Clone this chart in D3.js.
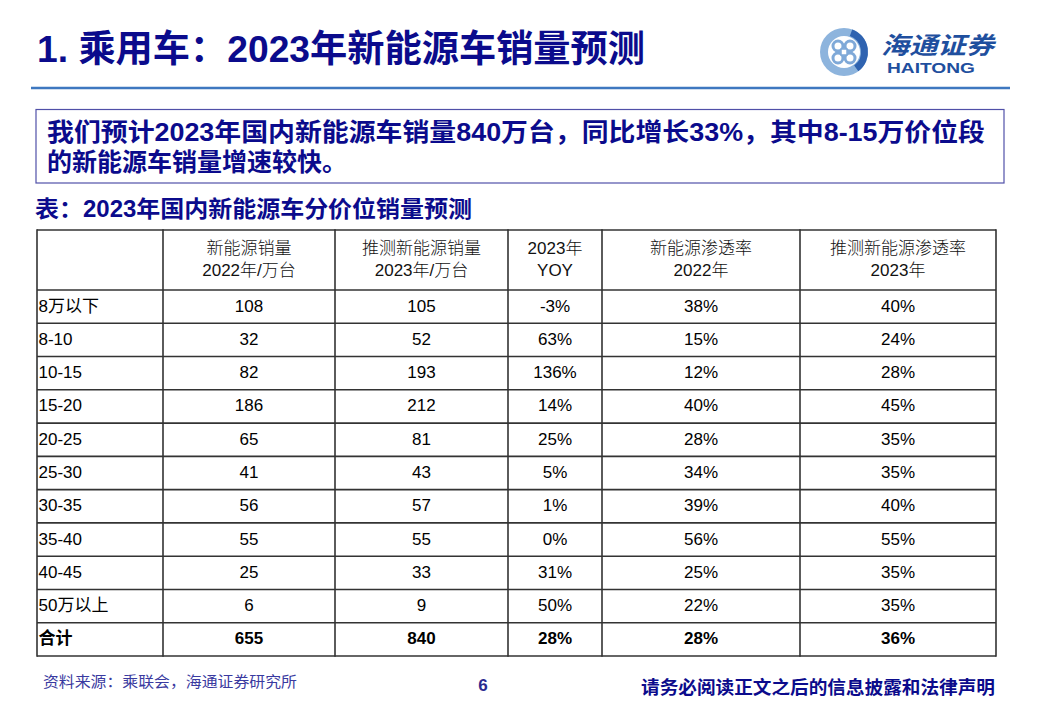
<!DOCTYPE html>
<html><head><meta charset="utf-8">
<script src="https://cdn.jsdelivr.net/npm/d3@7"></script>
<style>
html,body{margin:0;padding:0;background:#fff;}
svg{display:block;}
</style></head>
<body>
<svg id="c" width="1040" height="718"></svg>
<script>
const categories = ["8万以下","8-10","10-15","15-20","20-25","25-30","30-35","35-40","40-45","50万以上"];
const sales2022 = [108,32,82,186,65,41,56,55,25,6];
const sales2023 = [105,52,193,212,81,43,57,55,33,9];
const yoy2023 = ["-3%","63%","136%","14%","25%","5%","1%","0%","31%","50%"];
const pen2022 = ["38%","15%","12%","40%","28%","34%","39%","56%","25%","22%"];
const pen2023 = ["40%","24%","28%","45%","35%","35%","40%","55%","35%","35%"];
const totalRow = ["合计","655","840","28%","28%","36%"];
const headers = [["",""],["新能源销量","2022年/万台"],["推测新能源销量","2023年/万台"],["2023年","YOY"],["新能源渗透率","2022年"],["推测新能源渗透率","2023年"]];

const CJK = "'Liberation Sans', Arial, 'Noto Sans CJK SC', sans-serif";
const NAVY = "#0b0b8c";
const svg = d3.select("#c");

// Title
svg.append("text").attr("x",37).attr("y",62)
  .attr("font-family",CJK).attr("font-weight","bold").attr("font-size",37)
  .attr("fill",NAVY).attr("textLength",608).attr("lengthAdjust","spacingAndGlyphs")
  .text("1. 乘用车：2023年新能源车销量预测");

// Logo
const lg = svg.append("g").attr("transform","translate(844,52)");
lg.append("circle").attr("r",24).attr("fill","#8db4dd");
lg.append("path").attr("d",d3.arc()({innerRadius:17,outerRadius:24,startAngle:0.35,endAngle:2.5})).attr("fill","#2f63b0");
lg.append("circle").attr("r",16).attr("fill","#fff");
[45,135,225,315].forEach(a=>{
  lg.append("circle").attr("r",5).attr("cx",8.5*Math.cos(a*Math.PI/180)).attr("cy",8.5*Math.sin(a*Math.PI/180))
    .attr("fill","none").attr("stroke","#7fa9d8").attr("stroke-width",3);
});
lg.append("rect").attr("x",-3).attr("y",-3).attr("width",6).attr("height",6).attr("fill","#fff").attr("stroke","#7fa9d8").attr("stroke-width",1.5);
svg.append("text").attr("x",881).attr("y",54).attr("font-family","'Noto Sans CJK SC'").attr("font-weight","bold")
  .attr("font-size",24).attr("fill","#1f4f9e").attr("font-style","italic").attr("textLength",113).attr("lengthAdjust","spacingAndGlyphs").text("海通证券");
svg.append("text").attr("x",887).attr("y",73).attr("font-family","'Liberation Sans', Arial, sans-serif").attr("font-weight","bold")
  .attr("font-size",14).attr("fill","#1f4f9e").attr("textLength",88).attr("lengthAdjust","spacingAndGlyphs").text("HAITONG");

// Blue rule
svg.append("line").attr("x1",31).attr("x2",1010).attr("y1",88).attr("y2",88).attr("stroke","#3e78c0").attr("stroke-width",2.5);

// Box
svg.append("rect").attr("x",36).attr("y",109.5).attr("width",968).attr("height",73.5)
  .attr("fill","none").attr("stroke","#5050a8").attr("stroke-width",1.2);
svg.append("text").attr("x",47).attr("y",141).attr("font-family",CJK).attr("font-weight","bold").attr("font-size",25)
  .attr("fill",NAVY).attr("textLength",938).attr("lengthAdjust","spacingAndGlyphs")
  .text("我们预计2023年国内新能源车销量840万台，同比增长33%，其中8-15万价位段");
svg.append("text").attr("x",47).attr("y",171).attr("font-family",CJK).attr("font-weight","bold").attr("font-size",25)
  .attr("fill",NAVY).attr("textLength",300).attr("lengthAdjust","spacingAndGlyphs")
  .text("的新能源车销量增速较快。");

// Caption
svg.append("text").attr("x",35).attr("y",217).attr("font-family",CJK).attr("font-weight","bold").attr("font-size",23)
  .attr("fill",NAVY).attr("textLength",437).attr("lengthAdjust","spacingAndGlyphs")
  .text("表：2023年国内新能源车分价位销量预测");

// Table
const colEdges = [37,163,335,508,602,800,996];
const rowKeys = categories.concat(["合计"]);
const y = d3.scaleBand().domain(rowKeys).range([290,656]).paddingInner(0).paddingOuter(0);
const headTop = 230, headBot = 290;
const rows = categories.map((c,i)=>[c,String(sales2022[i]),String(sales2023[i]),yoy2023[i],pen2022[i],pen2023[i]]);
rows.push(totalRow);

const tg = svg.append("g");
headers.forEach((h,j)=>{
  const cx = (colEdges[j]+colEdges[j+1])/2;
  h.forEach((t,k)=>{
    if(!t) return;
    tg.append("text").attr("x",cx).attr("y",(k===0?248:270)).attr("text-anchor","middle")
      .attr("dominant-baseline","central").attr("font-family",CJK).attr("font-size",17)
      .attr("fill","#111").attr("font-weight",300).text(t);
  });
});
rows.forEach((r,i)=>{
  const key = rowKeys[i];
  const cy = y(key)+y.bandwidth()/2-0.5;
  const bold = i===rows.length-1;
  r.forEach((t,j)=>{
    const isFirst = j===0;
    tg.append("text")
      .attr("x", isFirst ? colEdges[0]+1.5 : (colEdges[j]+colEdges[j+1])/2)
      .attr("y", cy).attr("dominant-baseline","central")
      .attr("text-anchor", isFirst ? "start" : "middle")
      .attr("font-family",CJK).attr("font-size",17).attr("fill","#000")
      .attr("font-weight", bold ? "bold" : "normal").text(t);
  });
});
const hLines = [headTop, headBot].concat(rowKeys.map(k=>y(k)+y.bandwidth()));
hLines.forEach(v=>{
  tg.append("line").attr("x1",colEdges[0]).attr("x2",colEdges[colEdges.length-1]).attr("y1",v).attr("y2",v)
    .attr("stroke","#333").attr("stroke-width",1.6);
});
colEdges.forEach(v=>{
  tg.append("line").attr("x1",v).attr("x2",v).attr("y1",headTop-0.8).attr("y2",656.8)
    .attr("stroke","#333").attr("stroke-width",1.6);
});

// Footer
svg.append("text").attr("x",43).attr("y",687).attr("font-family",CJK).attr("font-size",15)
  .attr("fill","#3a3aa0").attr("textLength",254).attr("lengthAdjust","spacingAndGlyphs").text("资料来源：乘联会，海通证券研究所");
svg.append("text").attr("x",483).attr("y",691).attr("text-anchor","middle").attr("font-family",CJK).attr("font-weight","bold")
  .attr("font-size",17).attr("fill","#2a2a90").text("6");
svg.append("text").attr("x",995).attr("y",694).attr("text-anchor","end").attr("font-family",CJK).attr("font-weight","bold")
  .attr("font-size",18).attr("fill",NAVY).attr("textLength",354).attr("lengthAdjust","spacingAndGlyphs").text("请务必阅读正文之后的信息披露和法律声明");
</script>
</body></html>
